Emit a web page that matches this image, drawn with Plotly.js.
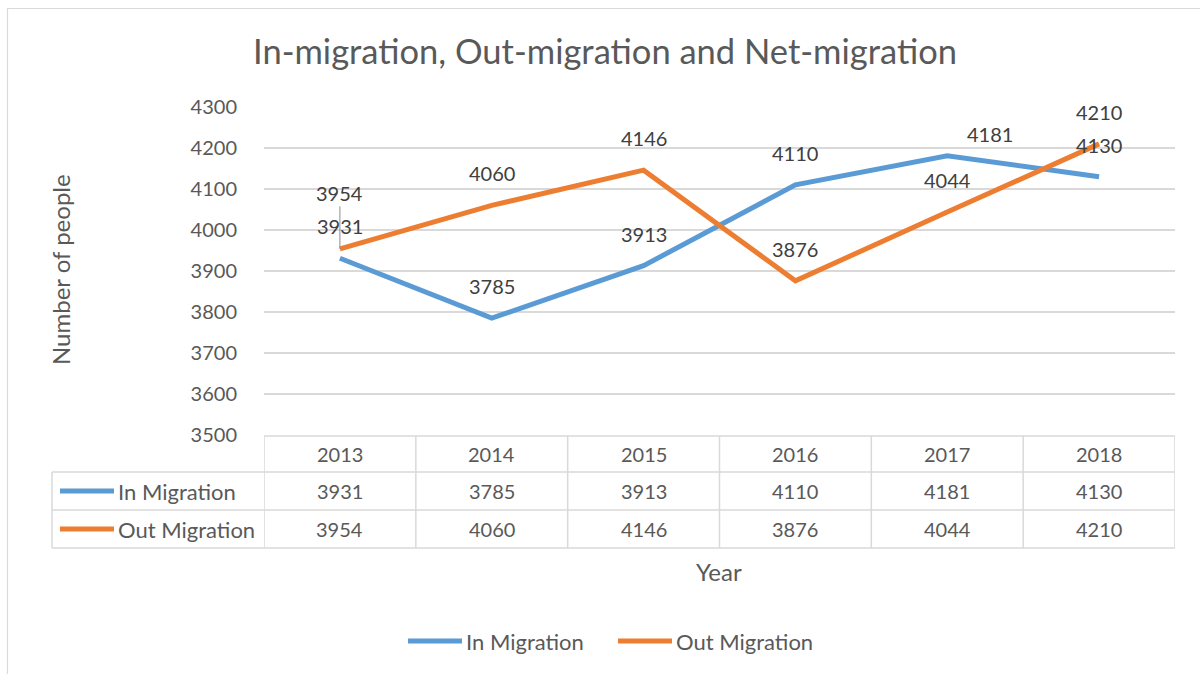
<!DOCTYPE html>
<html>
<head>
<meta charset="utf-8">
<script src="https://cdn.plot.ly/plotly-3.0.1.min.js"></script>
<style>html,body{margin:0;padding:0;background:#fff;}#chart{width:1200px;height:674px;}</style>
</head>
<body>
<div id="chart"></div>
<script>
// ---- data ----
const years = ['2013', '2014', '2015', '2016', '2017', '2018'];
const inMigration = [3931, 3785, 3913, 4110, 4181, 4130];
const outMigration = [3954, 4060, 4146, 3876, 4044, 4210];
const seriesNames = ['In Migration', 'Out Migration'];
const yTickValues = [3500, 3600, 3700, 3800, 3900, 4000, 4100, 4200, 4300];
const chartTitle = 'In-migration, Out-migration and Net-migration';
const xTitle = 'Year';
const yTitle = 'Number of people';

// ---- styling / layout ----
const colors = ['#5B9BD5', '#ED7D31'];
const textColor = '#595959';
const labelColor = '#404040';
const gridColor = '#D9D9D9';
const FONT = 'Lato, "Open Sans", sans-serif';
const W = 1200, H = 674;
const M = {l: 264, r: 25, t: 107, b: 239};
const plotW = W - M.l - M.r, plotH = H - M.t - M.b;
const px = x => (x - M.l) / plotW;           // pixel x -> paper
const py = y => (H - M.b - y) / plotH;       // pixel y -> paper

// label placement tweaks (per series/category)
const labelNudge = {
  'Out Migration|2013': {ay: -56, leader: true},
  'In Migration|2017': {xshift: 43, yshift: 22}
};

const seriesValues = [inMigration, outMigration];

const traces = seriesNames.map((name, i) => ({
  type: 'scatter', mode: 'lines', name: name,
  x: years, y: seriesValues[i],
  line: {color: colors[i], width: 5, shape: 'linear'},
  showlegend: false, hoverinfo: 'x+y+name'
}));

const annotations = [];
const shapes = [];

// data labels (x given as category index on the category axis)
seriesNames.forEach((name, i) => {
  seriesValues[i].forEach((v, j) => {
    const n = labelNudge[name + '|' + years[j]] || {};
    const a = {
      x: j, y: v, xref: 'x', yref: 'y', text: String(v),
      font: {family: FONT, size: 20, color: labelColor},
      xanchor: 'center', yanchor: 'middle'
    };
    if (n.leader) {
      Object.assign(a, {showarrow: true, arrowhead: 0, arrowwidth: 1, arrowcolor: '#8C8C8C', ax: 0, ay: n.ay, standoff: 0});
    } else {
      Object.assign(a, {showarrow: false, yshift: n.yshift !== undefined ? n.yshift : 32, xshift: n.xshift || 0});
    }
    annotations.push(a);
  });
});

// titles
annotations.push({
  xref: 'paper', yref: 'paper', x: px(60), y: py(270), text: yTitle, textangle: -90,
  showarrow: false, xanchor: 'center', yanchor: 'middle',
  font: {family: FONT, size: 24, color: textColor}
});
annotations.push({
  xref: 'paper', yref: 'paper', x: px(719), y: py(571), text: xTitle,
  showarrow: false, xanchor: 'center', yanchor: 'middle',
  font: {family: FONT, size: 24, color: textColor}
});

// data table
const rowLines = [436, 472, 510, 548];
const tableLeft = 52;
const lineStyle = {color: gridColor, width: 1.5};
shapes.push({type: 'line', xref: 'x', yref: 'paper', x0: -0.5, x1: years.length - 0.5, y0: py(rowLines[0]), y1: py(rowLines[0]), line: lineStyle});
for (let r = 1; r < rowLines.length; r++) {
  shapes.push({type: 'line', xref: 'paper', yref: 'paper', x0: px(tableLeft), x1: 1, y0: py(rowLines[r]), y1: py(rowLines[r]), line: lineStyle});
}
for (let k = 0; k <= years.length; k++) {
  shapes.push({type: 'line', xref: 'x', yref: 'paper', x0: k - 0.5, x1: k - 0.5, y0: py(rowLines[0]), y1: py(rowLines[3]), line: lineStyle});
}
shapes.push({type: 'line', xref: 'paper', yref: 'paper', x0: px(tableLeft), x1: px(tableLeft), y0: py(rowLines[1]), y1: py(rowLines[3]), line: lineStyle});

const cellFont = {family: FONT, size: 20, color: textColor};
const nameFont = {family: FONT, size: 22, color: textColor};
years.forEach((yr, j) => annotations.push({
  x: j, xref: 'x', yref: 'paper', y: py((rowLines[0] + rowLines[1]) / 2), text: yr,
  showarrow: false, xanchor: 'center', yanchor: 'middle', font: cellFont
}));
seriesNames.forEach((name, i) => {
  const yc = py((rowLines[i + 1] + rowLines[i + 2]) / 2);
  seriesValues[i].forEach((v, j) => annotations.push({
    x: j, xref: 'x', yref: 'paper', y: yc, text: String(v),
    showarrow: false, xanchor: 'center', yanchor: 'middle', font: cellFont
  }));
  shapes.push({type: 'line', xref: 'paper', yref: 'paper', x0: px(60), x1: px(114), y0: yc, y1: yc,
    line: {color: colors[i], width: 5}});
  annotations.push({
    xref: 'paper', yref: 'paper', x: px(116), y: yc, text: name,
    showarrow: false, xanchor: 'left', yanchor: 'middle', font: nameFont
  });
});

// bottom legend
const legendKeys = [408, 618];
seriesNames.forEach((name, i) => {
  const yc = py(641);
  shapes.push({type: 'line', xref: 'paper', yref: 'paper', x0: px(legendKeys[i]), x1: px(legendKeys[i] + 54), y0: yc, y1: yc,
    line: {color: colors[i], width: 5}});
  annotations.push({
    xref: 'paper', yref: 'paper', x: px(legendKeys[i] + 56), y: yc, text: name,
    showarrow: false, xanchor: 'left', yanchor: 'middle', font: nameFont
  });
});

// outer chart border
shapes.push({type: 'rect', xref: 'paper', yref: 'paper', x0: px(7.5), x1: px(1260), y0: py(740), y1: py(8.5),
  line: {color: gridColor, width: 1.2}, fillcolor: 'rgba(0,0,0,0)', layer: 'below'});

const layout = {
  width: W, height: H,
  margin: M,
  paper_bgcolor: '#fff', plot_bgcolor: '#fff',
  font: {family: FONT, color: textColor},
  title: {text: chartTitle, font: {family: FONT, size: 34.5, color: textColor},
          x: 605 / W, xref: 'container', xanchor: 'center', y: 1 - 52 / H, yref: 'container', yanchor: 'middle'},
  xaxis: {type: 'category', range: [-0.5, years.length - 0.5], showticklabels: false, showgrid: false,
          zeroline: false, showline: false, ticks: '', fixedrange: true},
  yaxis: {range: [3500, 4300], tickvals: yTickValues, ticktext: yTickValues.map(String),
          showgrid: true, gridcolor: gridColor, gridwidth: 1.5, zeroline: false, showline: false,
          ticks: 'outside', ticklen: 22, tickcolor: 'rgba(0,0,0,0)',
          tickfont: {family: FONT, size: 20, color: textColor}, fixedrange: true},
  showlegend: false,
  shapes: shapes,
  annotations: annotations
};

Plotly.newPlot('chart', traces, layout, {displayModeBar: false});
</script>
</body>
</html>
